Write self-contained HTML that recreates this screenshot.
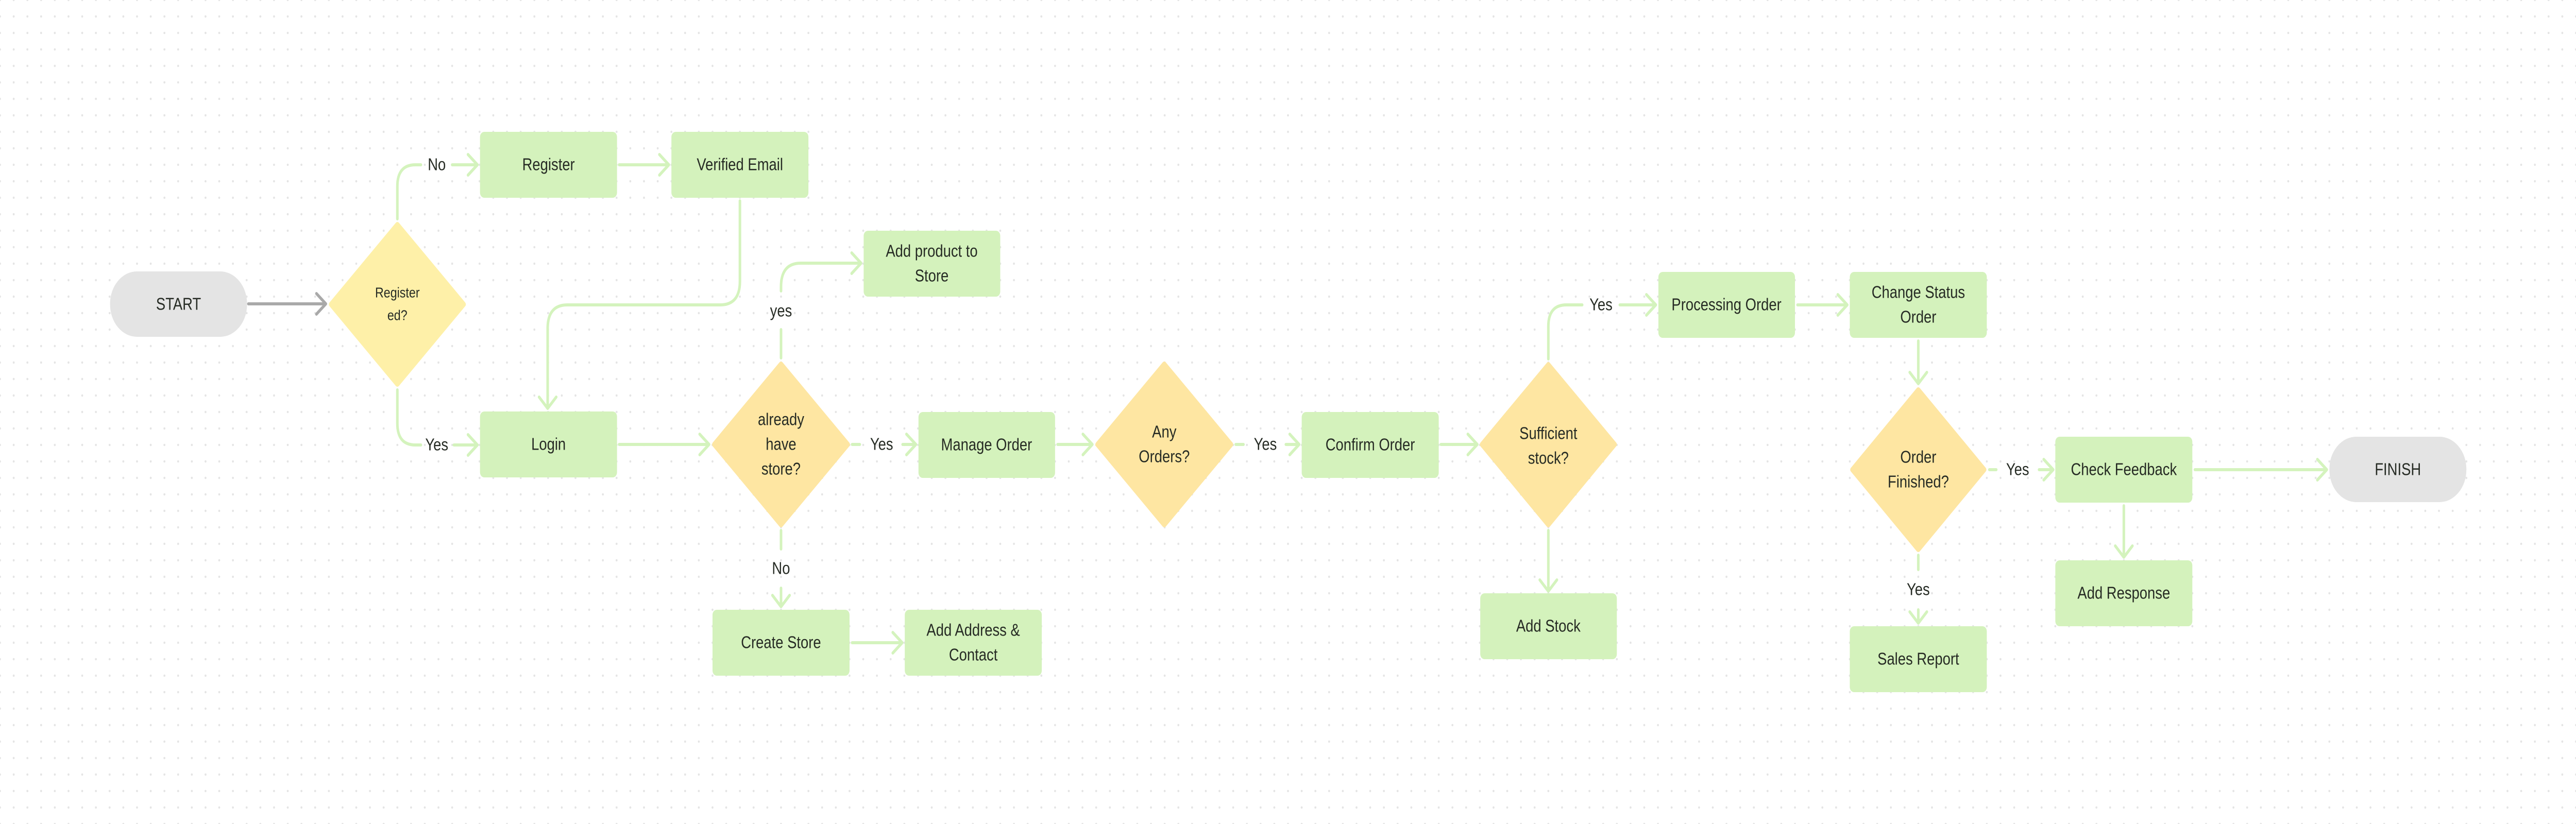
<!DOCTYPE html>
<html><head><meta charset="utf-8"><style>
html,body{margin:0;padding:0;background:#fff;width:100vw;height:100vh;overflow:hidden;}
svg{display:block;width:100vw;height:100vh;}
text{font-family:"Liberation Sans",sans-serif;font-size:33px;fill:#262b24;text-anchor:middle;dominant-baseline:central;}
</style></head><body>
<svg viewBox="0 0 6016 1600" preserveAspectRatio="none" xmlns="http://www.w3.org/2000/svg">
<defs>
<pattern id="dots" x="0" y="0" width="32" height="32" patternUnits="userSpaceOnUse">
<circle cx="0" cy="0" r="2.2" fill="#e4e4e4"/><circle cx="32" cy="0" r="2.2" fill="#e4e4e4"/><circle cx="0" cy="32" r="2.2" fill="#e4e4e4"/><circle cx="32" cy="32" r="2.2" fill="#e4e4e4"/>
</pattern>
</defs>
<rect width="6016" height="1600" fill="url(#dots)"/>

<g fill="none" stroke="#d4f3bd" stroke-width="6" stroke-linecap="round" stroke-linejoin="round">
<path d="M928 425 V362 Q928 320 970 320 H983"/>
<path d="M1056 320 H1115 M1093 300 L1115 320 L1093 340"/>
<path d="M928 757 V822 Q928 864 970 864 H983"/>
<path d="M1060 864 H1115 M1093 844 L1115 864 L1093 884"/>
<path d="M1446 320 H1562 M1540 300 L1562 320 L1540 340"/>
<path d="M1728 390 V546 Q1728 592 1682 592 H1325 Q1279 592 1279 638 V793 M1259 771 L1279 793 L1299 771"/>
<path d="M1446 863 H1656 M1634 843 L1656 863 L1634 883"/>
<path d="M1824 695 V640"/>
<path d="M1824 565 V557 Q1824 511 1870 511 H2011 M1989 491 L2011 511 L1989 531"/>
<path d="M1824 1030 V1066"/>
<path d="M1824 1142 V1178 M1804 1156 L1824 1178 L1844 1156"/>
<path d="M1990 863 H2008"/>
<path d="M2108 863 H2139 M2117 843 L2139 863 L2117 883"/>
<path d="M2470 863 H2551 M2529 843 L2551 863 L2529 883"/>
<path d="M2886 863 H2904"/>
<path d="M3003 863 H3034 M3012 843 L3034 863 L3012 883"/>
<path d="M1990 1248 H2107 M2085 1228 L2107 1248 L2085 1268"/>
<path d="M3365 863 H3450 M3428 843 L3450 863 L3428 883"/>
<path d="M3616 697 V634 Q3616 592 3658 592 H3695"/>
<path d="M3783 592 H3867 M3845 572 L3867 592 L3845 612"/>
<path d="M4198 592 H4314 M4292 572 L4314 592 L4292 612"/>
<path d="M4480 662 V745 M4460 723 L4480 745 L4500 723"/>
<path d="M3616 1030 V1148 M3596 1126 L3616 1148 L3636 1126"/>
<path d="M4480 1078 V1106"/>
<path d="M4480 1184 V1210 M4460 1188 L4480 1210 L4500 1188"/>
<path d="M4646 912 H4662"/>
<path d="M4762 912 H4795 M4773 892 L4795 912 L4773 932"/>
<path d="M5126 912 H5434 M5412 892 L5434 912 L5412 932"/>
<path d="M4960 982 V1082 M4940 1060 L4960 1082 L4980 1060"/>
</g>
<path d="M580 590 H761 M739 570 L761 590 L739 610" fill="none" stroke="#a9a9a9" stroke-width="6" stroke-linecap="round" stroke-linejoin="round"/>

<rect x="257" y="527" width="320" height="127" rx="63" fill="#e4e4e4"/>
<text x="417" y="591">START</text>
<rect x="5440" y="848" width="320" height="127" rx="63" fill="#e4e4e4"/>
<text x="5600" y="912">FINISH</text>

<g stroke-linejoin="round" stroke-width="10">
<polygon points="928,436 1083,591 928,746 773,591" fill="#fef0a8" stroke="#fef0a8"/>
<polygon points="1824,707 1980,863 1824,1019 1668,863" fill="#fee6a2" stroke="#fee6a2"/>
<polygon points="2719,707 2875,863 2719,1019 2563,863" fill="#fee6a2" stroke="#fee6a2"/>
<polygon points="3616,708 3771,863 3616,1019 3461,863" fill="#fee6a2" stroke="#fee6a2"/>
<polygon points="4480,757 4634,912 4480,1067 4326,912" fill="#fee6a2" stroke="#fee6a2"/>
</g>
<text x="928" y="569" style="font-size:28px">Register</text>
<text x="928" y="613" style="font-size:28px">ed?</text>
<text x="1824" y="815">already</text>
<text x="1824" y="863">have</text>
<text x="1824" y="911">store?</text>
<text x="2719" y="839">Any</text>
<text x="2719" y="887">Orders?</text>
<text x="3616" y="842">Sufficient</text>
<text x="3616" y="890">stock?</text>
<text x="4480" y="888">Order</text>
<text x="4480" y="936">Finished?</text>

<g fill="#d4f2bc">
<rect x="1121" y="256" width="320" height="128" rx="10"/>
<rect x="1568" y="256" width="320" height="128" rx="10"/>
<rect x="1121" y="799" width="320" height="128" rx="10"/>
<rect x="2017" y="448" width="319" height="128" rx="10"/>
<rect x="2145" y="800" width="319" height="128" rx="10"/>
<rect x="3040" y="800" width="320" height="128" rx="10"/>
<rect x="1664" y="1184" width="320" height="128" rx="10"/>
<rect x="2113" y="1184" width="320" height="128" rx="10"/>
<rect x="3873" y="528" width="319" height="128" rx="10"/>
<rect x="4320" y="528" width="320" height="128" rx="10"/>
<rect x="3457" y="1152" width="319" height="128" rx="10"/>
<rect x="4320" y="1216" width="320" height="128" rx="10"/>
<rect x="4800" y="848" width="320" height="128" rx="10"/>
<rect x="4800" y="1088" width="320" height="128" rx="10"/>
</g>
<text x="1281" y="320">Register</text>
<text x="1728" y="320">Verified Email</text>
<text x="1281" y="863">Login</text>
<text x="2176" y="488">Add product to</text>
<text x="2176" y="536">Store</text>
<text x="2304" y="864">Manage Order</text>
<text x="3200" y="864">Confirm Order</text>
<text x="1824" y="1248">Create Store</text>
<text x="2273" y="1224">Add Address &amp;</text>
<text x="2273" y="1272">Contact</text>
<text x="4032" y="592">Processing Order</text>
<text x="4480" y="568">Change Status</text>
<text x="4480" y="616">Order</text>
<text x="3616" y="1216">Add Stock</text>
<text x="4480" y="1280">Sales Report</text>
<text x="4960" y="912">Check Feedback</text>
<text x="4960" y="1152">Add Response</text>

<text x="1020" y="320">No</text>
<text x="1020" y="864">Yes</text>
<text x="1824" y="604">yes</text>
<text x="1824" y="1104">No</text>
<text x="2059" y="863">Yes</text>
<text x="2955" y="863">Yes</text>
<text x="3739" y="592">Yes</text>
<text x="4480" y="1145">Yes</text>
<text x="4712" y="912">Yes</text>
</svg>
</body></html>
